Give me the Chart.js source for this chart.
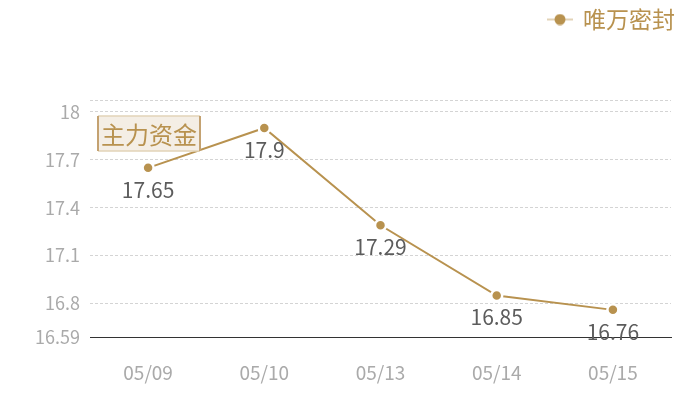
<!DOCTYPE html>
<html lang="zh">
<head>
    <meta charset="UTF-8">
    <title>唯万密封</title>
    <script src="https://cdn.jsdelivr.net/npm/chart.js"></script>
    <style>
        html, body {
            margin: 0;
            padding: 0;
            background: #fff;
        }
        .chart-wrapper {
            position: relative;
            width: 700px;
            height: 400px;
        }
    </style>
</head>
<body>
    <div class="chart-wrapper">
        <canvas id="priceChart"></canvas>
    </div>

    <script>
        const dates = ['05/09', '05/10', '05/13', '05/14', '05/15'];
        const prices = [17.65, 17.9, 17.29, 16.85, 16.76];
        const yTicks = [16.59, 16.8, 17.1, 17.4, 17.7, 18];
        const yMin = 16.59;
        const yMax = 18.075;
        const seriesName = '唯万密封';
        const boxLabel = '主力资金';

        const gold = '#b8924f';
        const font = '"Noto Sans CJK SC", "Noto Sans", sans-serif';

        // legend marker: short line with a dot
        const marker = document.createElement('canvas');
        marker.width = 26;
        marker.height = 12;
        const mctx = marker.getContext('2d');
        mctx.strokeStyle = '#d8c49f';
        mctx.lineWidth = 1.5;
        mctx.beginPath();
        mctx.moveTo(0, 6);
        mctx.lineTo(26, 6);
        mctx.stroke();
        mctx.fillStyle = gold;
        mctx.beginPath();
        mctx.arc(13, 6, 5.5, 0, Math.PI * 2);
        mctx.fill();

        // legend takes the whole top band, nudged to the right edge
        const legendFix = {
            id: 'legendFix',
            beforeLayout(chart) {
                const lg = chart.legend;
                if (lg && !lg._patched) {
                    const orig = lg.fit;
                    lg.fit = function () {
                        orig.call(this);
                        this.height = 100;
                    };
                    lg._patched = true;
                }
            },
            afterLayout(chart) {
                chart.legend.left += 12;
                chart.legend.right += 12;
            }
        };

        // value labels under each point + the "主力资金" box
        const extras = {
            id: 'extras',
            afterDatasetsDraw(chart) {
                const ctx = chart.ctx;
                const meta = chart.getDatasetMeta(0);
                ctx.save();
                ctx.font = '21px ' + font;
                ctx.fillStyle = '#5c5c5c';
                ctx.textAlign = 'center';
                ctx.textBaseline = 'middle';
                meta.data.forEach((pt, i) => {
                    ctx.fillText(String(prices[i]), pt.x, pt.y + 22);
                });

                const area = chart.chartArea;
                const bx = area.left + 8, by = area.top + 16, bw = 102, bh = 35;
                ctx.fillStyle = '#f4eee5';
                ctx.fillRect(bx, by, bw, bh);
                ctx.strokeStyle = '#e2d3b8';
                ctx.lineWidth = 1.5;
                ctx.beginPath();
                ctx.moveTo(bx, by); ctx.lineTo(bx + bw, by);
                ctx.moveTo(bx, by + bh); ctx.lineTo(bx + bw, by + bh);
                ctx.stroke();
                ctx.strokeStyle = '#c4a271';
                ctx.lineWidth = 2;
                ctx.beginPath();
                ctx.moveTo(bx, by); ctx.lineTo(bx, by + bh);
                ctx.moveTo(bx + bw, by); ctx.lineTo(bx + bw, by + bh);
                ctx.stroke();
                ctx.font = '24px ' + font;
                ctx.fillStyle = '#b8924f';
                ctx.fillText(boxLabel, bx + bw / 2, by + bh / 2 + 1);
                ctx.restore();
            }
        };

        new Chart(document.getElementById('priceChart'), {
            type: 'line',
            data: {
                labels: dates,
                datasets: [{
                    label: seriesName,
                    data: prices,
                    borderColor: gold,
                    backgroundColor: gold,
                    borderWidth: 2,
                    tension: 0,
                    pointRadius: 5.5,
                    pointBorderWidth: 2.5,
                    pointBorderColor: '#fff',
                    pointBackgroundColor: gold,
                    pointStyle: 'circle'
                }]
            },
            options: {
                responsive: true,
                maintainAspectRatio: false,
                animation: false,
                layout: {
                    padding: { left: 0, right: 29, top: 0, bottom: 0 }
                },
                plugins: {
                    tooltip: { enabled: false },
                    legend: {
                        position: 'top',
                        align: 'end',
                        labels: {
                            usePointStyle: true,
                            color: gold,
                            font: { family: font, size: 23 },
                            padding: 8,
                            generateLabels: () => [{
                                text: seriesName,
                                pointStyle: marker,
                                fontColor: gold,
                                strokeStyle: 'transparent',
                                lineWidth: 0,
                                datasetIndex: 0
                            }]
                        }
                    }
                },
                scales: {
                    x: {
                        offset: true,
                        afterFit(axis) { axis.height = 63; },
                        grid: { display: false, drawTicks: false },
                        border: { display: true, color: '#333', width: 1 },
                        ticks: {
                            color: '#aaa',
                            padding: 24,
                            font: { family: font, size: 19 }
                        }
                    },
                    y: {
                        min: yMin,
                        max: yMax,
                        afterFit(axis) { axis.width = 90; },
                        afterBuildTicks(axis) {
                            axis.ticks = yTicks.concat([yMax]).map(v => ({ value: v }));
                        },
                        grid: {
                            color: ctx => ctx.index === 0 ? 'transparent' : '#d4d4d4',
                            drawTicks: false
                        },
                        border: { display: false, dash: [3, 2] },
                        ticks: {
                            color: '#aaa',
                            padding: 10,
                            font: { family: font, size: 18 },
                            callback: v => yTicks.includes(v) ? String(v) : ''
                        }
                    }
                }
            },
            plugins: [legendFix, extras]
        });
    </script>
</body>
</html>
